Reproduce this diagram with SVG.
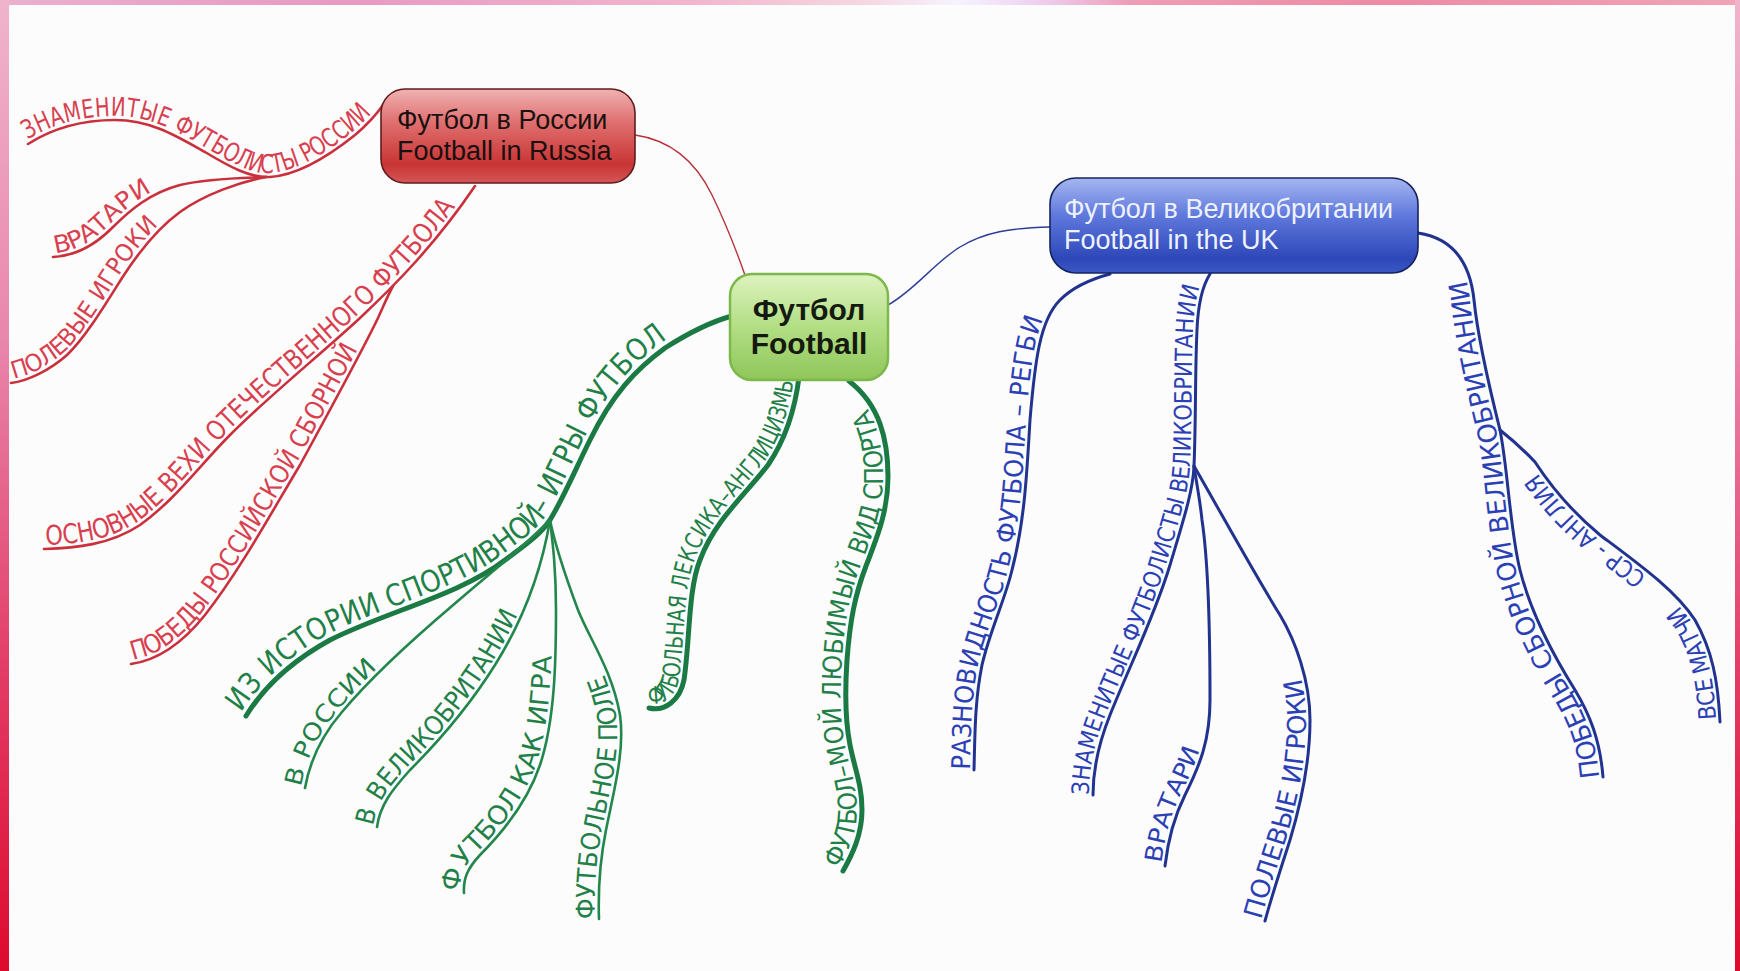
<svg xmlns="http://www.w3.org/2000/svg" xmlns:xlink="http://www.w3.org/1999/xlink" width="1740" height="971" viewBox="0 0 1740 971">
<defs>
<style>
.hw{font-family:"DejaVu Sans Condensed","Liberation Sans Narrow","DejaVu Sans",sans-serif;font-stretch:condensed;}
.cr{fill:none;stroke:#c9303c;stroke-width:2.6;stroke-linecap:round;}
.crt{fill:none;stroke:#b8323a;stroke-width:1.4;}
.cg{fill:none;stroke:#1b7a44;stroke-width:5;stroke-linecap:round;}
.cgs{fill:none;stroke:#23874c;stroke-width:2.6;stroke-linecap:round;}
.cb{fill:none;stroke:#22328f;stroke-width:3;stroke-linecap:round;}
.cbt{fill:none;stroke:#2c3c98;stroke-width:1.4;}
.tr{fill:#d8404f;}
.tg{fill:#1f8048;}
.tb{fill:#2b40b4;}
.node-t{font-family:"Liberation Sans",Arial,sans-serif;font-size:27px;}
</style>
<linearGradient id="gRed" x1="0" y1="0" x2="0" y2="1">
<stop offset="0" stop-color="#f0b2b2"/><stop offset="0.35" stop-color="#e07070"/><stop offset="0.8" stop-color="#c93434"/><stop offset="1" stop-color="#d45656"/>
</linearGradient>
<linearGradient id="gBlue" x1="0" y1="0" x2="0" y2="1">
<stop offset="0" stop-color="#a6b6f0"/><stop offset="0.4" stop-color="#5e78dc"/><stop offset="0.85" stop-color="#2d47b8"/><stop offset="1" stop-color="#3b58c6"/>
</linearGradient>
<linearGradient id="gGreen" x1="0" y1="0" x2="0" y2="1">
<stop offset="0" stop-color="#ddf3bf"/><stop offset="0.5" stop-color="#b2de84"/><stop offset="1" stop-color="#8fc65a"/>
</linearGradient>
<linearGradient id="gTop" x1="0" y1="0" x2="1" y2="0">
<stop offset="0" stop-color="#eab0cc"/><stop offset="0.2" stop-color="#e79ac2"/><stop offset="0.4" stop-color="#f2b6cc"/><stop offset="0.5" stop-color="#f6d8e2"/><stop offset="0.55" stop-color="#f6f4ff"/><stop offset="0.6" stop-color="#eecdf0"/><stop offset="0.65" stop-color="#ef9cb6"/><stop offset="0.8" stop-color="#ee8aa4"/><stop offset="1" stop-color="#f0a4b8"/>
</linearGradient>
<linearGradient id="gSide" x1="0" y1="0" x2="0" y2="1">
<stop offset="0" stop-color="#f0b4cc"/><stop offset="0.35" stop-color="#e986ac"/><stop offset="0.7" stop-color="#e23a64"/><stop offset="1" stop-color="#de0a2e"/>
</linearGradient>
</defs>

<rect x="0" y="0" width="1740" height="971" fill="#fcfcfd"/>
<g id="frame">
<rect x="0" y="0" width="1740" height="5" fill="url(#gTop)"/>
<rect x="0" y="0" width="9" height="971" fill="url(#gSide)"/>
<rect x="1735" y="0" width="5" height="971" fill="url(#gSide)"/>
</g>

<g id="connectors">
<path id="rc" class="crt" d="M635,135 C670,140 695,160 712,195 C728,228 738,255 746,278"/>
<path id="R1" class="cr" d="M28,144 C50,130 80,120 115,120 C150,120 175,135 205,152 C230,167 250,178 270,177 C300,175 330,155 355,135 C368,124 376,115 383,105"/>
<path id="R2" class="cr" d="M53,257 C75,256 95,245 112,228 C130,210 150,193 180,185 C210,178 245,178 266,177"/>
<path id="R3" class="cr" d="M11,383 C28,381 50,370 67,355 C85,338 105,305 122,278 C140,250 158,228 180,212 C205,194 240,182 266,177"/>
<path id="R4" class="cr" d="M44,549 C75,548 110,545 140,525 C175,500 200,465 230,435 C270,395 320,355 360,318 C395,285 435,245 475,186"/>
<path id="R5" class="cr" d="M131,664 C160,660 185,640 205,615 C240,570 270,515 300,465 C330,410 365,345 378,318 C384,305 388,295 393,286"/>

<path id="G1" class="cg" d="M246,716 C262,690 290,662 330,640 C385,612 460,595 505,560 C525,545 540,535 550,520 C565,495 575,470 590,440 C612,395 635,370 665,348 C690,332 710,322 732,316"/>
<path id="G1a" class="cgs" d="M305,788 C310,760 322,735 342,712 C372,676 412,640 452,606 C490,573 525,546 550,520"/>
<path id="G1b" class="cgs" d="M377,827 C380,805 392,790 410,770 C440,740 470,705 495,665 C520,625 540,580 550,520"/>
<path id="G1c" class="cgs" d="M464,893 C463,878 468,868 480,855 C505,830 528,800 540,765 C555,720 556,660 556,610 C556,570 553,545 550,520"/>
<path id="G1d" class="cgs" d="M599,919 C598,890 600,860 606,830 C614,790 625,750 620,715 C612,670 590,640 578,610 C565,575 555,545 550,520"/>
<path id="G2" class="cg" d="M649,708 C665,712 680,700 684,680 C690,640 688,590 700,560 C715,520 745,495 768,465 C785,440 795,410 799,377"/>
<path id="G3" class="cg" d="M843,871 C852,855 862,835 862,810 C862,785 855,770 850,745 C845,720 845,690 847,660 C850,620 855,595 866,566 C878,535 888,510 888,477 C888,440 880,405 849,381"/>

<path id="bc" class="cbt" d="M888,305 C915,290 935,262 960,247 C985,232 1010,228 1050,227"/>
<path id="B1" class="cb" d="M974,770 C975,730 975,700 982,665 C990,630 1005,600 1012,570 C1025,520 1027,470 1030,420 C1035,360 1040,320 1060,300 C1075,285 1095,278 1110,274"/>
<path id="B2" class="cb" d="M1093,795 C1093,770 1098,745 1110,715 C1130,665 1155,615 1170,565 C1185,515 1193,490 1194,466 C1196,420 1195,370 1197,330 C1198,305 1203,285 1210,274"/>
<path id="B3" class="cb" d="M1165,866 C1168,840 1175,815 1185,795 C1200,765 1210,740 1210,700 C1210,640 1208,560 1202,520 C1200,500 1196,480 1194,466"/>
<path id="B4" class="cb" d="M1265,921 C1272,895 1282,865 1290,840 C1302,800 1310,760 1310,720 C1310,680 1295,640 1280,615 C1255,575 1225,520 1194,466"/>
<path id="B5" class="cb" d="M1603,777 C1600,740 1590,715 1575,690 C1550,650 1530,610 1520,570 C1510,530 1508,470 1500,430 C1490,390 1478,340 1474,300 C1470,262 1452,238 1418,233"/>
<path id="B6" class="cb" d="M1720,722 C1718,680 1712,650 1695,620 C1675,590 1640,565 1600,535 C1570,510 1550,485 1535,462 C1522,448 1510,438 1500,430"/>
</g>

<g id="connector-labels" class="hw">
<text class="tr" font-size="26" dy="-4"><textPath href="#R1" startOffset="2" textLength="380" lengthAdjust="spacingAndGlyphs">ЗНАМЕНИТЫЕ ФУТБОЛИСТЫ РОССИИ</textPath></text>
<text class="tr" font-size="24" dy="-4"><textPath href="#R2" startOffset="3" textLength="118" lengthAdjust="spacingAndGlyphs">ВРАТАРИ</textPath></text>
<text class="tr" font-size="24" dy="-4"><textPath href="#R3" startOffset="4" textLength="218" lengthAdjust="spacingAndGlyphs">ПОЛЕВЫЕ ИГРОКИ</textPath></text>
<text class="tr" font-size="27" dy="-4"><textPath href="#R4" startOffset="2" textLength="548" lengthAdjust="spacingAndGlyphs">ОСНОВНЫЕ ВЕХИ ОТЕЧЕСТВЕННОГО ФУТБОЛА</textPath></text>
<text class="tr" font-size="26" dy="-4"><textPath href="#R5" startOffset="3" textLength="395" lengthAdjust="spacingAndGlyphs">ПОБЕДЫ РОССИЙСКОЙ СБОРНОЙ</textPath></text>

<text class="tg" font-size="30" dy="-6"><textPath href="#G1" startOffset="0" textLength="585" lengthAdjust="spacingAndGlyphs">ИЗ ИСТОРИИ СПОРТИВНОЙ– ИГРЫ ФУТБОЛ</textPath></text>
<text class="tg" font-size="24" dy="-4"><textPath href="#G1a" startOffset="0" textLength="142" lengthAdjust="spacingAndGlyphs">В РОССИИ</textPath></text>
<text class="tg" font-size="26" dy="-4"><textPath href="#G1b" startOffset="0" textLength="258" lengthAdjust="spacingAndGlyphs">В ВЕЛИКОБРИТАНИИ</textPath></text>
<text class="tg" font-size="26" dy="-4"><textPath href="#G1c" startOffset="0" textLength="262" lengthAdjust="spacingAndGlyphs">ФУТБОЛ КАК ИГРА</textPath></text>
<text class="tg" font-size="26" dy="-4"><textPath href="#G1d" startOffset="0" textLength="250" lengthAdjust="spacingAndGlyphs">ФУТБОЛЬНОЕ ПОЛЕ</textPath></text>
<text class="tg" font-size="24" dy="-5"><textPath href="#G2" startOffset="0" textLength="382" lengthAdjust="spacingAndGlyphs">ФУТБОЛЬНАЯ ЛЕКСИКА–АНГЛИЦИЗМЫ</textPath></text>
<text class="tg" font-size="26" dy="-5"><textPath href="#G3" startOffset="0" textLength="478" lengthAdjust="spacingAndGlyphs">ФУТБОЛ–МОЙ ЛЮБИМЫЙ ВИД СПОРТА</textPath></text>

<text class="tb" font-size="26" dy="-4"><textPath href="#B1" startOffset="0" textLength="458" lengthAdjust="spacingAndGlyphs">РАЗНОВИДНОСТЬ ФУТБОЛА – РЕГБИ</textPath></text>
<text class="tb" font-size="24" dy="-4"><textPath href="#B2" startOffset="0" textLength="525" lengthAdjust="spacingAndGlyphs">ЗНАМЕНИТЫЕ ФУТБОЛИСТЫ ВЕЛИКОБРИТАНИИ</textPath></text>
<text class="tb" font-size="24" dy="-4"><textPath href="#B3" startOffset="2" textLength="120" lengthAdjust="spacingAndGlyphs">ВРАТАРИ</textPath></text>
<text class="tb" font-size="26" dy="-4"><textPath href="#B4" startOffset="0" textLength="250" lengthAdjust="spacingAndGlyphs">ПОЛЕВЫЕ ИГРОКИ</textPath></text>
<text class="tb" font-size="26" dy="-4"><textPath href="#B5" startOffset="0" textLength="520" lengthAdjust="spacingAndGlyphs">ПОБЕДЫ СБОРНОЙ ВЕЛИКОБРИТАНИИ</textPath></text>
<text class="tb" font-size="24" dy="-4"><textPath href="#B6" startOffset="3" textLength="125" lengthAdjust="spacingAndGlyphs">ВСЕ МАТЧИ</textPath></text>
<text class="tb" font-size="24" dy="-4"><textPath href="#B6" startOffset="172" textLength="150" lengthAdjust="spacingAndGlyphs">ССР - АНГЛИЯ</textPath></text>
</g>

<g id="node-russia">
<rect x="381" y="89" width="254" height="94" rx="24" fill="url(#gRed)" stroke="#5e1d1d" stroke-width="1.6"/>
<text class="node-t" x="397" y="129" fill="#1a1010">Футбол в России</text>
<text class="node-t" x="397" y="160" fill="#1a1010">Football in Russia</text>
</g>

<g id="node-football">
<rect x="730" y="274" width="158" height="106" rx="22" fill="url(#gGreen)" stroke="#7cb84a" stroke-width="2.5"/>
<text x="809" y="320" text-anchor="middle" font-family="Liberation Sans,Arial,sans-serif" font-weight="bold" font-size="30" fill="#141a10">Футбол</text>
<text x="809" y="354" text-anchor="middle" font-family="Liberation Sans,Arial,sans-serif" font-weight="bold" font-size="30" fill="#141a10">Football</text>
</g>

<g id="node-uk">
<rect x="1050" y="178" width="368" height="95" rx="26" fill="url(#gBlue)" stroke="#16245e" stroke-width="1.6"/>
<text class="node-t" x="1064" y="218" fill="#eef2ff">Футбол в Великобритании</text>
<text class="node-t" x="1064" y="249" fill="#eef2ff">Football in the UK</text>
</g>
</svg>
